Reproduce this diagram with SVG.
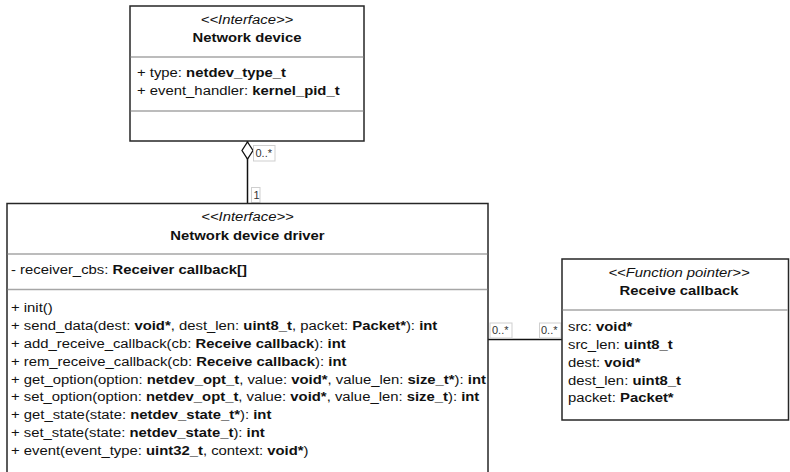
<svg xmlns="http://www.w3.org/2000/svg" width="790" height="472" viewBox="0 0 790 472">
  <style>
    .box { fill: #ffffff; stroke: #262626; stroke-width: 1.5; }
    .sep { stroke: #a6a6a6; stroke-width: 1.5; fill: none; }
    text { font-family: "Liberation Sans", Arial, sans-serif; font-size: 13.5px; fill: #111111; }
    .st { font-style: italic; }
    .nm { font-weight: bold; }
    .c { text-anchor: middle; }
    .b { font-weight: bold; }
    .link { stroke: #111111; stroke-width: 1.5; fill: none; }
    .lbl rect { fill: #ffffff; stroke: #cfcfcf; stroke-width: 1; }
    .lbl text { font-size: 10px; fill: #333333; }
  </style>

  <rect width="790" height="472" fill="#ffffff"/>

  <!-- connectors: aggregation and association -->
  <g id="connectors">
    <line class="link" x1="247.5" y1="141" x2="247.5" y2="203.5"/>
    <polygon points="247.5,142 253,150.5 247.5,159 242,150.5" fill="#ffffff" stroke="#111111" stroke-width="1.3"/>
    <line class="link" x1="488" y1="339.5" x2="562" y2="339.5"/>
    <g class="lbl">
      <rect x="253.5" y="145.5" width="21.5" height="15.5"/>
      <g transform="translate(255.5 0) scale(1.1 1)"><text x="0" y="157">0..*</text></g>
      <rect x="251.5" y="187.5" width="8.5" height="15"/>
      <g transform="translate(253.5 0) scale(1.1 1)"><text x="0" y="199">1</text></g>
      <rect x="490" y="323" width="22" height="15"/>
      <g transform="translate(492 0) scale(1.1 1)"><text x="0" y="334.5">0..*</text></g>
      <rect x="539.5" y="323" width="21.5" height="15"/>
      <g transform="translate(541 0) scale(1.1 1)"><text x="0" y="334.5">0..*</text></g>
    </g>
  </g>

  <!-- Network device interface -->
  <g id="node-network-device">
    <rect class="box" x="130" y="6" width="234" height="135"/>
    <line class="sep" x1="130.75" y1="57" x2="363.25" y2="57"/>
    <line class="sep" x1="130.75" y1="111" x2="363.25" y2="111"/>
    <g transform="translate(247 0) scale(1.1 1)">
      <text class="c st" x="0" y="24">&lt;&lt;Interface&gt;&gt;</text>
      <text class="c nm" x="0" y="42.5">Network device</text>
    </g>
    <g transform="translate(137 0) scale(1.1 1)">
      <text x="0" y="77">+ type: <tspan class="b">netdev_type_t</tspan></text>
      <text x="0" y="94.8">+ event_handler: <tspan class="b">kernel_pid_t</tspan></text>
    </g>
  </g>

  <!-- Network device driver interface -->
  <g id="node-driver">
    <rect class="box" x="7" y="203.5" width="481" height="280"/>
    <line class="sep" x1="7.75" y1="254" x2="487.25" y2="254"/>
    <line class="sep" x1="7.75" y1="289.5" x2="487.25" y2="289.5"/>
    <g transform="translate(247.5 0) scale(1.1 1)">
      <text class="c st" x="0" y="221.5">&lt;&lt;Interface&gt;&gt;</text>
      <text class="c nm" x="0" y="240">Network device driver</text>
    </g>
    <g transform="translate(11 0) scale(1.1 1)">
      <text x="0" y="274">- receiver_cbs: <tspan class="b">Receiver callback[]</tspan></text>
      <text x="0" y="312.4">+ init()</text>
      <text x="0" y="330.2">+ send_data(dest: <tspan class="b">void*</tspan>, dest_len: <tspan class="b">uint8_t</tspan>, packet: <tspan class="b">Packet*</tspan>): <tspan class="b">int</tspan></text>
      <text x="0" y="348">+ add_receive_callback(cb: <tspan class="b">Receive callback</tspan>): <tspan class="b">int</tspan></text>
      <text x="0" y="365.8">+ rem_receive_callback(cb: <tspan class="b">Receive callback</tspan>): <tspan class="b">int</tspan></text>
      <text x="0" y="383.6">+ get_option(option: <tspan class="b">netdev_opt_t</tspan>, value: <tspan class="b">void*</tspan>, value_len: <tspan class="b">size_t*</tspan>): <tspan class="b">int</tspan></text>
      <text x="0" y="401.4">+ set_option(option: <tspan class="b">netdev_opt_t</tspan>, value: <tspan class="b">void*</tspan>, value_len: <tspan class="b">size_t</tspan>): <tspan class="b">int</tspan></text>
      <text x="0" y="419.2">+ get_state(state: <tspan class="b">netdev_state_t*</tspan>): <tspan class="b">int</tspan></text>
      <text x="0" y="437">+ set_state(state: <tspan class="b">netdev_state_t</tspan>): <tspan class="b">int</tspan></text>
      <text x="0" y="454.8">+ event(event_type: <tspan class="b">uint32_t</tspan>, context: <tspan class="b">void*</tspan>)</text>
    </g>
  </g>

  <!-- Receive callback function pointer -->
  <g id="node-callback">
    <rect class="box" x="562" y="259" width="226.5" height="161"/>
    <line class="sep" x1="562.75" y1="310" x2="787.75" y2="310"/>
    <g transform="translate(679 0) scale(1.1 1)">
      <text class="c st" x="0" y="277">&lt;&lt;Function pointer&gt;&gt;</text>
      <text class="c nm" x="0" y="295.5">Receive callback</text>
    </g>
    <g transform="translate(568 0) scale(1.1 1)">
      <text x="0" y="331.5">src: <tspan class="b">void*</tspan></text>
      <text x="0" y="349.3">src_len: <tspan class="b">uint8_t</tspan></text>
      <text x="0" y="367.1">dest: <tspan class="b">void*</tspan></text>
      <text x="0" y="384.9">dest_len: <tspan class="b">uint8_t</tspan></text>
      <text x="0" y="402.2">packet: <tspan class="b">Packet*</tspan></text>
    </g>
  </g>
</svg>
